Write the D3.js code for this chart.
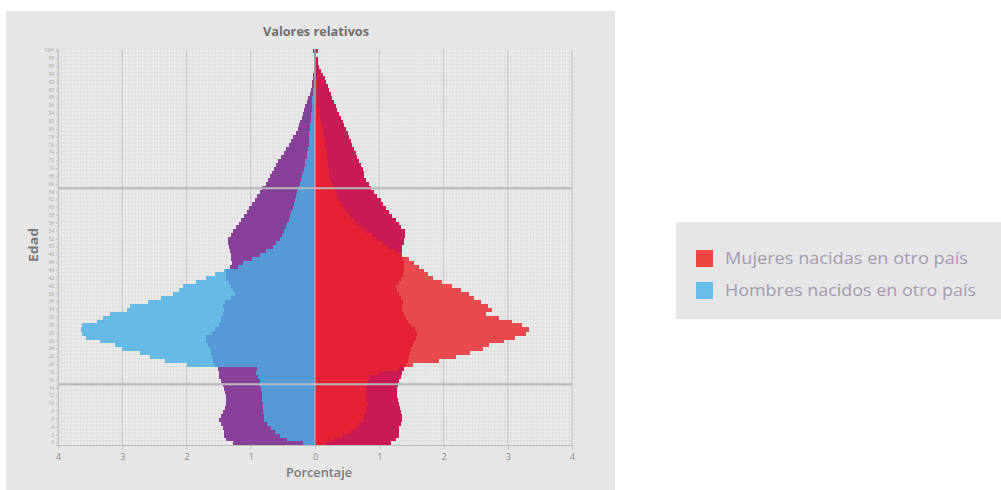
<!DOCTYPE html>
<html><head><meta charset="utf-8">
<script src="https://cdn.jsdelivr.net/npm/d3@7"></script>
<style>
body{margin:0;background:#fff;}
svg text{font-family:"Open Sans",sans-serif;}
</style></head>
<body><svg id="c" width="1001" height="490"></svg>
<script>
const ages = d3.range(0,101);
const ageTickLabels = d3.range(0,100,2).map(String).concat(["100+"]);
const xTickValues = [-4,-3,-2,-1,0,1,2,3,4];
const xTickLabels = ["4","3","2","1","0","1","2","3","4"];
const legendLabels = ["Mujeres nacidas en otro país","Hombres nacidos en otro país"];

// Men, reference population (%)
const menRef = [1.28,1.38,1.41,1.42,1.43,1.46,1.49,1.46,1.43,1.40,
1.38,1.38,1.38,1.40,1.41,1.43,1.46,1.49,1.49,1.51,
1.56,1.58,1.61,1.62,1.64,1.66,1.69,1.69,1.61,1.55,
1.49,1.47,1.46,1.43,1.41,1.43,1.40,1.30,1.25,1.27,
1.30,1.34,1.38,1.39,1.39,1.33,1.29,1.30,1.31,1.33,
1.34,1.35,1.35,1.30,1.27,1.23,1.19,1.15,1.11,1.06,
1.02,0.98,0.94,0.90,0.86,0.82,0.77,0.73,0.70,0.67,
0.64,0.60,0.57,0.53,0.49,0.45,0.41,0.38,0.34,0.30,
0.27,0.25,0.23,0.21,0.19,0.17,0.15,0.13,0.11,0.08,
0.06,0.05,0.04,0.03,0.03,0.02,0.02,0.01,0.01,0.01,0.03];
// Men born in another country (%)
const menForeign = [0.19,0.43,0.55,0.63,0.68,0.74,0.79,0.80,0.81,0.81,
0.81,0.82,0.82,0.83,0.84,0.85,0.86,0.89,0.92,0.90,
2.00,2.34,2.57,2.73,3.01,3.12,3.35,3.56,3.63,3.64,
3.63,3.40,3.30,3.19,2.93,2.88,2.60,2.40,2.21,2.12,
2.06,1.85,1.69,1.55,1.41,1.20,1.12,0.98,0.86,0.76,
0.66,0.60,0.55,0.51,0.48,0.45,0.43,0.41,0.39,0.37,
0.35,0.33,0.31,0.30,0.28,0.27,0.24,0.22,0.20,0.18,
0.17,0.16,0.15,0.13,0.12,0.11,0.10,0.10,0.09,0.09,
0.08,0.08,0.07,0.07,0.06,0.05,0.05,0.04,0.04,0.03,
0.03,0.02,0.02,0.02,0.01,0.01,0.01,0.01,0.01,0.01,0.02];
// Women, reference population (%)
const womenRef = [1.18,1.26,1.31,1.30,1.31,1.34,1.36,1.35,1.34,1.32,
1.31,1.29,1.28,1.27,1.27,1.29,1.31,1.34,1.36,1.39,
1.42,1.44,1.46,1.48,1.50,1.52,1.54,1.57,1.59,1.55,
1.49,1.45,1.41,1.38,1.36,1.35,1.37,1.34,1.31,1.28,
1.26,1.30,1.34,1.37,1.39,1.39,1.39,1.37,1.36,1.35,
1.36,1.38,1.39,1.40,1.40,1.34,1.30,1.26,1.20,1.15,
1.10,1.06,1.02,0.97,0.92,0.87,0.84,0.80,0.77,0.76,
0.74,0.71,0.69,0.66,0.64,0.61,0.58,0.56,0.53,0.51,
0.48,0.45,0.43,0.40,0.38,0.35,0.32,0.30,0.27,0.25,
0.22,0.20,0.17,0.15,0.12,0.09,0.07,0.05,0.04,0.02,0.04];
// Women born in another country (%)
const womenForeign = [0.17,0.30,0.43,0.56,0.64,0.69,0.74,0.77,0.79,0.80,
0.82,0.80,0.79,0.79,0.79,0.80,0.82,0.84,1.00,1.31,
1.52,1.93,2.19,2.42,2.62,2.71,2.94,3.12,3.28,3.33,
3.22,3.07,2.86,2.66,2.76,2.70,2.58,2.48,2.40,2.27,
2.14,1.98,1.83,1.76,1.70,1.62,1.54,1.46,1.36,1.25,
1.13,1.04,0.95,0.88,0.79,0.71,0.66,0.61,0.55,0.50,
0.45,0.41,0.38,0.35,0.32,0.30,0.27,0.24,0.22,0.22,
0.22,0.21,0.20,0.19,0.18,0.17,0.16,0.15,0.14,0.13,
0.12,0.11,0.10,0.08,0.07,0.06,0.05,0.05,0.05,0.04,
0.04,0.03,0.03,0.02,0.02,0.02,0.01,0.01,0.01,0.01,0.03];

const svg = d3.select("#c");
// outer panel
svg.append("rect").attr("x",6).attr("y",11).attr("width",609).attr("height",479).attr("fill","#e6e6e6");

const L=58,R=572,T=49,B=445;
const x = d3.scaleLinear().domain([-4,4]).range([L,R]);
const y = d3.scaleBand().domain(ages).range([B,T]).padding(0);
const bw = y.bandwidth();

// plot background
svg.append("rect").attr("x",L).attr("y",T).attr("width",R-L).attr("height",B-T).attr("fill","#ebebeb");
const grid = svg.append("g");
grid.selectAll("line.vm").data(d3.range(-4,4.001,0.05)).join("line")
  .attr("x1",d=>x(d)).attr("x2",d=>x(d)).attr("y1",T).attr("y2",B)
  .attr("stroke","#dddddd").attr("stroke-width",0.7);
grid.selectAll("line.hm").data(ages).join("line")
  .attr("x1",L).attr("x2",R).attr("y1",d=>y(d)).attr("y2",d=>y(d))
  .attr("stroke","#dddddd").attr("stroke-width",0.7);
grid.selectAll("line.vM").data(xTickValues).join("line")
  .attr("x1",d=>x(d)).attr("x2",d=>x(d)).attr("y1",T).attr("y2",B)
  .attr("stroke","#cacaca").attr("stroke-width",1.3);

// bars
const g = svg.append("g").attr("shape-rendering","crispEdges");
function bars(vals, sign, color){
  g.append("g").selectAll("rect").data(ages).join("rect")
    .attr("x",d=> sign<0 ? x(-vals[d]) : x(0))
    .attr("width",d=> Math.abs(x(vals[d])-x(0)))
    .attr("y",d=>y(d)).attr("height",bw+0.4)
    .attr("fill",color);
}
const menMin = ages.map(a=>Math.min(menRef[a],menForeign[a]));
const womenMin = ages.map(a=>Math.min(womenRef[a],womenForeign[a]));
bars(menRef,-1,"#874199");
bars(menForeign,-1,"#66bbe6");
bars(menMin,-1,"#559ad6");
bars(womenRef,1,"#cb1954");
bars(womenForeign,1,"#e94a4e");
bars(womenMin,1,"#e52233");

// center line
svg.append("line").attr("x1",x(0)).attr("x2",x(0)).attr("y1",T).attr("y2",B)
  .attr("stroke","#a5a5a5").attr("stroke-width",1.5);
// reference lines at 15 and 65
svg.selectAll("line.ref").data([15,65]).join("line")
  .attr("x1",L).attr("x2",R).attr("y1",d=>y(d)+bw/2).attr("y2",d=>y(d)+bw/2)
  .attr("stroke","#b8b8b8").attr("stroke-width",2);

// axes
const xAxis = d3.axisBottom(x).tickValues(xTickValues).tickFormat((d,i)=>xTickLabels[i]).tickSize(4).tickPadding(5);
const xa = svg.append("g").attr("transform",`translate(0,${B})`).call(xAxis);
xa.select(".domain").attr("stroke","#bdbdbd");
xa.selectAll(".tick line").attr("stroke","#bdbdbd");
xa.selectAll(".tick text").attr("fill","#8a8a8a").attr("font-size",9).attr("font-family","Open Sans");

const yAxis = d3.axisLeft(y).tickValues(d3.range(0,101,2)).tickFormat((d,i)=>ageTickLabels[i]).tickSize(2).tickPadding(2);
const ya = svg.append("g").attr("transform",`translate(${L},0)`).call(yAxis);
ya.select(".domain").attr("stroke","#c4c4c4");
ya.selectAll(".tick line").attr("stroke","#c4c4c4");
ya.selectAll(".tick text").attr("fill","#a0a0a0").attr("font-size",4.5).attr("font-family","Open Sans");

// titles
svg.append("text").attr("x",316).attr("y",36).attr("text-anchor","middle")
  .attr("font-size",12.5).attr("font-weight",700).attr("fill","#6e6e6e")
  .attr("textLength",106).attr("lengthAdjust","spacingAndGlyphs").text("Valores relativos");
svg.append("text").attr("x",319).attr("y",477).attr("text-anchor","middle")
  .attr("font-size",12.5).attr("font-weight",600).attr("fill","#7a7a7a")
  .attr("textLength",66).attr("lengthAdjust","spacingAndGlyphs").text("Porcentaje");
svg.append("text").attr("transform","translate(38,245) rotate(-90)").attr("text-anchor","middle")
  .attr("font-size",12.5).attr("font-weight",700).attr("fill","#7a7a7a")
  .attr("textLength",34).attr("lengthAdjust","spacingAndGlyphs").text("Edad");

// legend
const lg = svg.append("g");
lg.append("rect").attr("x",676).attr("y",222).attr("width",325).attr("height",97).attr("fill","#e6e6e6");
const lcol = ["#ef4643","#68bde9"];
legendLabels.forEach((t,i)=>{
  lg.append("rect").attr("x",696).attr("y",250+i*32).attr("width",17).attr("height",17).attr("fill",lcol[i]);
  lg.append("text").attr("x",725).attr("y",264+i*32).attr("font-size",15.5)
    .attr("fill","#a39cb0").attr("textLength",i==0?243:251).attr("lengthAdjust","spacingAndGlyphs").text(t);
});
</script></body></html>
